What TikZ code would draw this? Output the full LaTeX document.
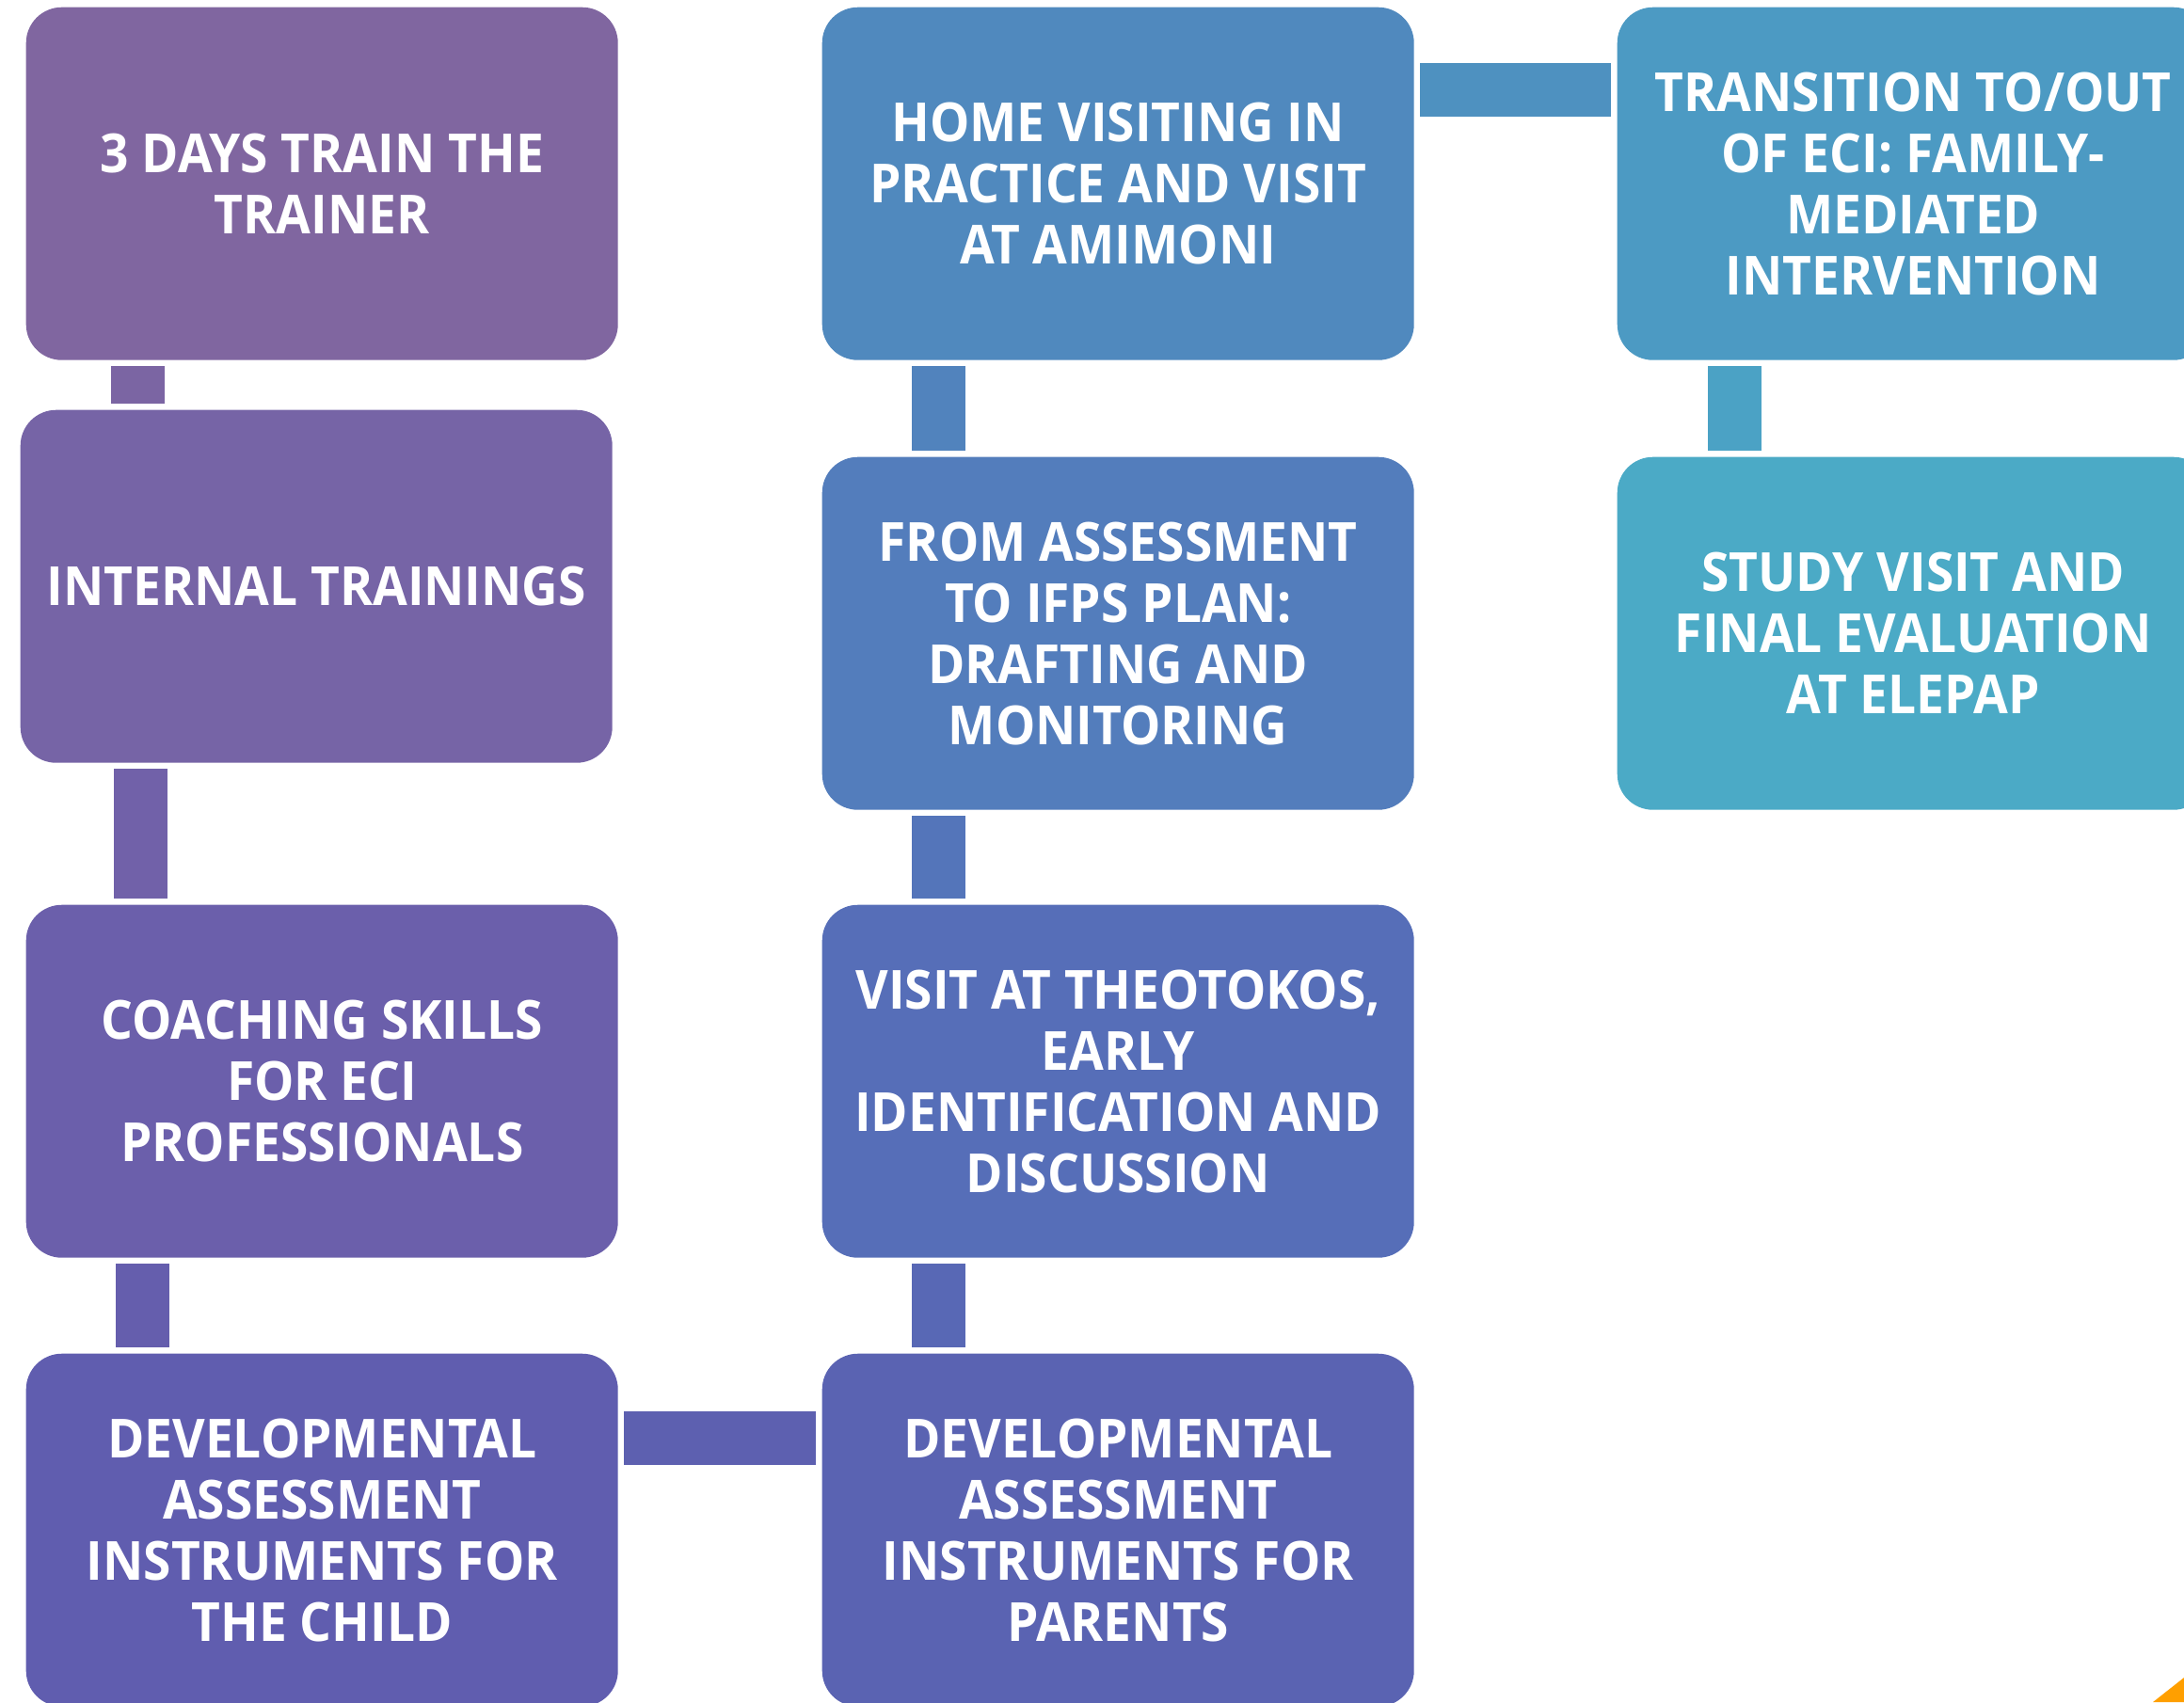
\documentclass[tikz,border=0pt]{standalone}
\usepackage{fontspec}
\setmainfont{Open Sans}[FakeStretch=0.93]
\usetikzlibrary{positioning}
\definecolor{trainA}{HTML}{8066A0}
\definecolor{trainB}{HTML}{7664A6}
\definecolor{trainC}{HTML}{6B5FAB}
\definecolor{trainD}{HTML}{605DAF}
\definecolor{parentE}{HTML}{5A63B2}
\definecolor{visitF}{HTML}{566EB8}
\definecolor{assessG}{HTML}{537DBC}
\definecolor{homeH}{HTML}{5089BE}
\definecolor{transI}{HTML}{4C9AC3}
\definecolor{studyJ}{HTML}{4BAAC6}
\definecolor{tri}{HTML}{FF9F00}

\begin{document}
\begin{tikzpicture}[
    stage/.style={draw=none, rounded corners=0.38cm, minimum width=6.29cm,
      minimum height=3.75cm, inner sep=0pt, align=center, text=white,
      font=\fontsize{16.3}{18.5}\selectfont\bfseries},
    bar/.style={line width=0.57cm, shorten <=0.06cm, shorten >=0.06cm}]
  \path[use as bounding box, clip] (0,0) rectangle (23.21,-18.09);

  % left column
  \node[stage, fill=trainA, anchor=north west] (days) at (0.27,-0.07) {3 DAYS TRAIN THE\\TRAINER};
  \node[stage, fill=trainB, anchor=north west] (internal) at (0.21,-4.35) {INTERNAL TRAININGS};
  \node[stage, fill=trainC, anchor=north west] (coach) at (0.27,-9.61) {COACHING SKILLS\\FOR ECI\\PROFESSIONALS};
  \node[stage, fill=trainD, anchor=north west] (child) at (0.27,-14.38) {DEVELOPMENTAL\\ASSESSMENT\\INSTRUMENTS FOR\\THE CHILD};

  % middle column
  \node[stage, fill=parentE, anchor=north west] (parents) at (8.73,-14.38) {DEVELOPMENTAL\\ASSESSMENT\\INSTRUMENTS FOR\\PARENTS};
  \node[stage, fill=visitF, anchor=north west] (theotokos) at (8.73,-9.61) {VISIT AT THEOTOKOS,\\EARLY\\IDENTIFICATION AND\\DISCUSSION};
  \node[stage, fill=assessG, anchor=north west] (ifps) at (8.73,-4.85) {FROM ASSESSMENT\\TO IFPS PLAN:\\DRAFTING AND\\MONITORING};
  \node[stage, fill=homeH, anchor=north west] (home) at (8.73,-0.07) {HOME VISITING IN\\PRACTICE AND VISIT\\AT AMIMONI};

  % right column
  \node[stage, fill=transI, anchor=north west] (transition) at (17.18,-0.07) {TRANSITION TO/OUT\\OF ECI: FAMILY-\\MEDIATED\\INTERVENTION};
  \node[stage, fill=studyJ, anchor=north west] (study) at (17.18,-4.85) {STUDY VISIT AND\\FINAL EVALUATION\\AT ELEPAP};

  % connectors
  \draw[bar, draw=trainA!50!trainB] ([xshift=1.19cm]days.south west) -- ([xshift=1.19cm]days.south west |- internal.north);
  \draw[bar, draw=trainB!50!trainC] ([xshift=1.28cm]internal.south west) -- ([xshift=1.28cm]internal.south west |- coach.north);
  \draw[bar, draw=trainC!50!trainD] ([xshift=1.24cm]coach.south west) -- ([xshift=1.24cm]coach.south west |- child.north);
  \draw[bar, draw=trainD!50!parentE] ([yshift=-0.90cm]child.north east) -- ([yshift=-0.90cm]child.north east -| parents.west);
  \draw[bar, draw=parentE!50!visitF] ([xshift=1.24cm]parents.north west) -- ([xshift=1.24cm]parents.north west |- theotokos.south);
  \draw[bar, draw=visitF!50!assessG] ([xshift=1.24cm]theotokos.north west) -- ([xshift=1.24cm]theotokos.north west |- ifps.south);
  \draw[bar, draw=assessG!50!homeH] ([xshift=1.24cm]ifps.north west) -- ([xshift=1.24cm]ifps.north west |- home.south);
  \draw[bar, draw=homeH!50!transI] ([yshift=-0.88cm]home.north east) -- ([yshift=-0.88cm]home.north east -| transition.west);
  \draw[bar, draw=transI!50!studyJ] ([xshift=1.25cm]transition.south west) -- ([xshift=1.25cm]transition.south west |- study.north);

  \fill[tri] (22.88,-18.09) -- (23.21,-17.83) -- (23.21,-18.09) -- cycle;
\end{tikzpicture}
\end{document}
